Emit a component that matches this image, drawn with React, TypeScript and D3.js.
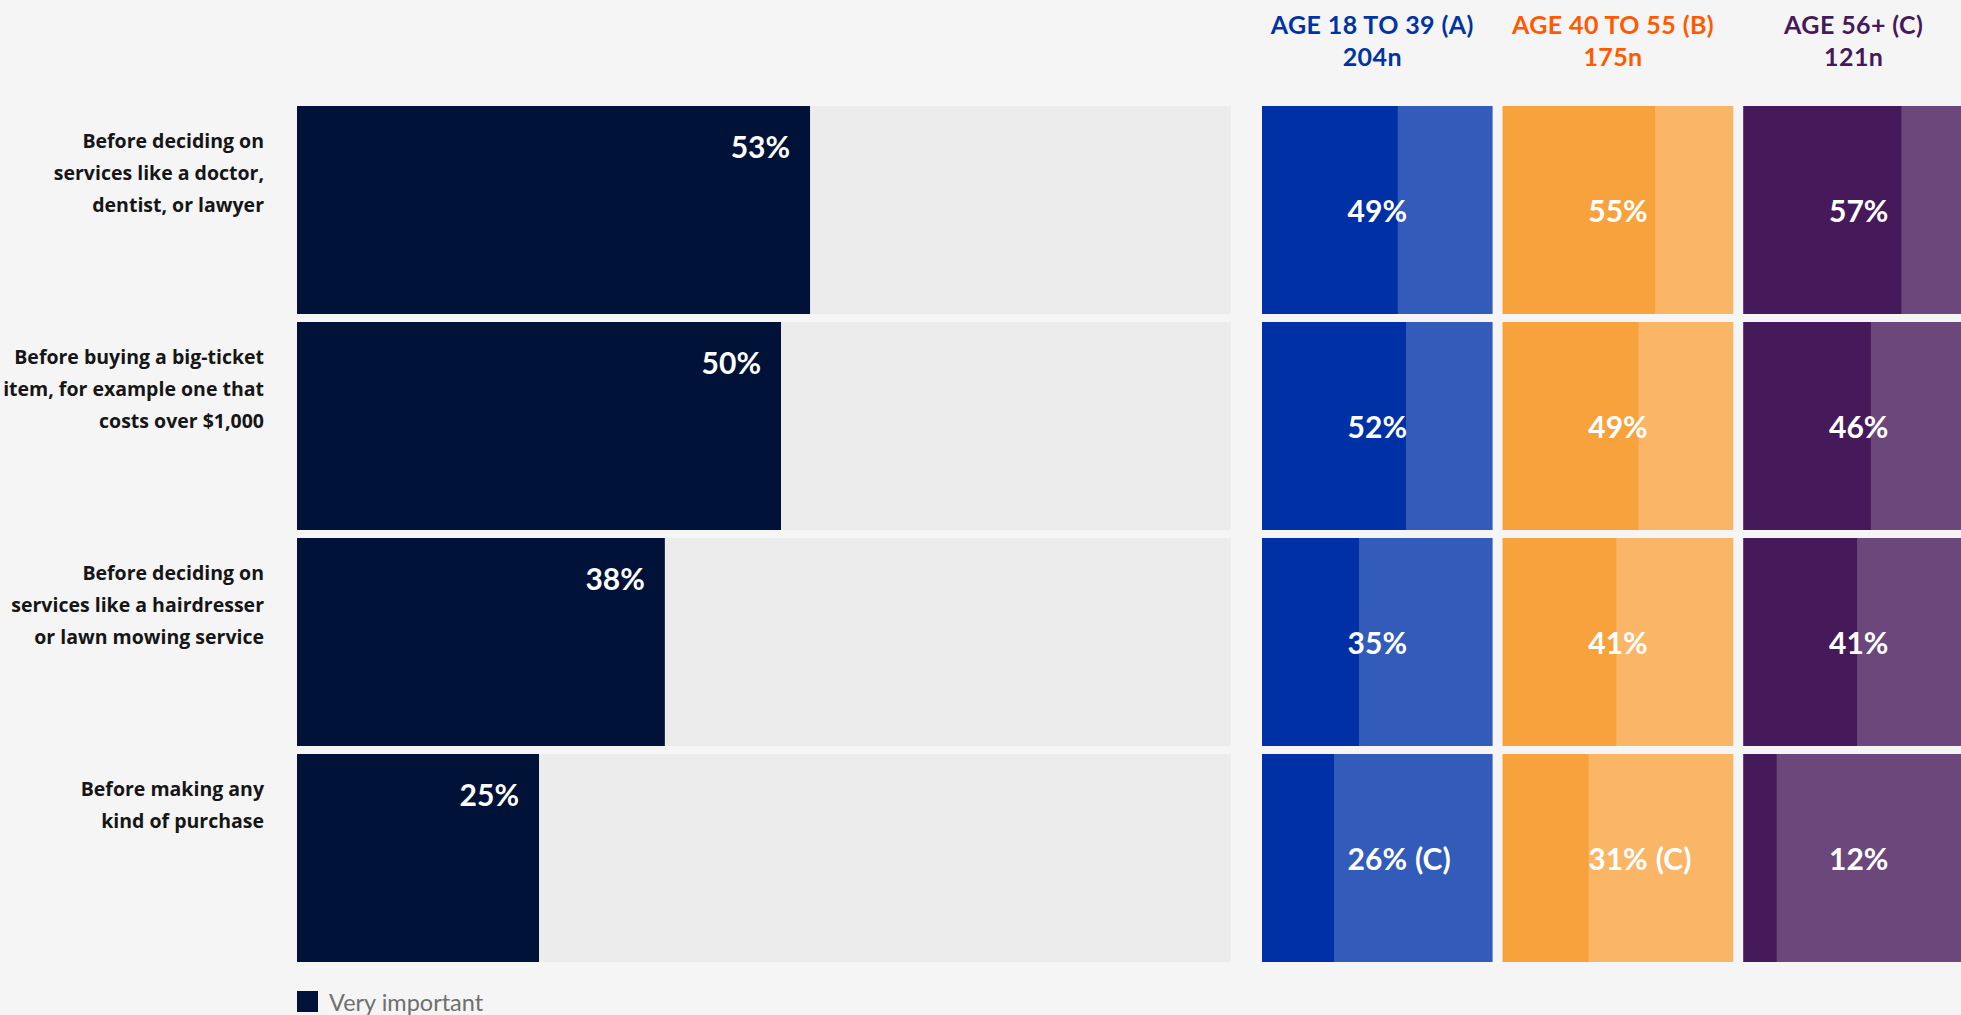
import React, { useEffect, useRef } from "react";
import * as d3 from "d3";

// Survey statements, one wrapped line per entry
const categories: string[][] = [
  ["Before deciding on", "services like a doctor,", "dentist, or lawyer"],
  ["Before buying a big-ticket", "item, for example one that", "costs over $1,000"],
  ["Before deciding on", "services like a hairdresser", "or lawn mowing service"],
  ["Before making any", "kind of purchase"],
];

// Share answering "Very important", all respondents (%)
const totalValues = [53, 50, 38, 25];

// Age group headers and sample sizes
const groupNames = ["AGE 18 TO 39 (A)", "AGE 40 TO 55 (B)", "AGE 56+ (C)"];
const groupSizes = ["204n", "175n", "121n"];

// "Very important" share by age group (%)
const ageA = [49, 52, 35, 26];
const ageB = [55, 49, 41, 31];
const ageC = [57, 46, 41, 12];

// Significance letters shown after a value
const sigA = ["", "", "", "C"];
const sigB = ["", "", "", "C"];
const sigC = ["", "", "", ""];

const legendLabel = "Very important";

const W = 1961;
const H = 1015;
const FONT = "Lato, 'Open Sans', 'DejaVu Sans', sans-serif";
const LABEL_FONT = "'Open Sans', Lato, 'DejaVu Sans', sans-serif";

const groupStyles = [
  { dark: "#0030a6", light: "#335bb9", head: "#0034a2" },
  { dark: "#f8a23e", light: "#fbb567", head: "#ff5a00" },
  { dark: "#46195b", light: "#6b477b", head: "#46195b" },
];

export default function App() {
  const ref = useRef<SVGSVGElement | null>(null);

  useEffect(() => {
    document.body.style.margin = "0";
    document.body.style.background = "#f5f5f5";
    const svg = d3.select(ref.current);
    svg.selectAll("*").remove();

    svg.append("rect").attr("width", W).attr("height", H).attr("fill", "#f5f5f5");

    const rows = d3
      .scaleBand<number>()
      .domain(d3.range(categories.length))
      .range([106, 962])
      .paddingInner(8 / 216);

    const trackLeft = 297;
    const trackRight = 1231;
    const x = d3.scaleLinear().domain([0, 100]).range([trackLeft, trackLeft + 968]);

    const groups = d3
      .scaleBand<number>()
      .domain(d3.range(groupNames.length))
      .range([1262, 1974])
      .paddingInner(0.042);
    const fill = d3.scaleLinear().domain([0, 100]).range([0, 277]);

    const groupValues = [ageA, ageB, ageC];
    const groupSig = [sigA, sigB, sigC];

    // Row labels
    const labelG = svg.append("g");
    categories.forEach((lines, i) => {
      const t = labelG
        .append("text")
        .attr("text-anchor", "end")
        .attr("font-family", LABEL_FONT)
        .attr("font-weight", 700)
        .attr("font-size", 19.5)
        .attr("fill", "#161616");
      lines.forEach((ln, j) => {
        t.append("tspan")
          .attr("x", 264)
          .attr("y", (rows(i) as number) + 42 + j * 32)
          .text(ln);
      });
    });

    // Overall bars
    const main = svg.append("g");
    totalValues.forEach((v, i) => {
      const y0 = rows(i) as number;
      main
        .append("rect")
        .attr("x", trackLeft)
        .attr("y", y0)
        .attr("width", trackRight - trackLeft)
        .attr("height", rows.bandwidth())
        .attr("fill", "#ececec");
      main
        .append("rect")
        .attr("x", trackLeft)
        .attr("y", y0)
        .attr("width", x(v) - trackLeft)
        .attr("height", rows.bandwidth())
        .attr("fill", "#001237");
      main
        .append("text")
        .attr("x", x(v) - 20)
        .attr("y", y0 + 52)
        .attr("text-anchor", "end")
        .attr("font-family", FONT)
        .attr("font-weight", 700)
        .attr("font-size", 30)
        .attr("fill", "#ffffff")
        .text(`${v}%`);
    });

    // Age group panels
    groupNames.forEach((name, g) => {
      const gx = groups(g) as number;
      const bw = groups.bandwidth();
      const cx = gx + bw / 2;
      const st = groupStyles[g];
      const head = svg
        .append("text")
        .attr("text-anchor", "middle")
        .attr("font-family", FONT)
        .attr("font-weight", 700)
        .attr("font-size", 25)
        .attr("letter-spacing", 0.4)
        .attr("fill", st.head);
      head.append("tspan").attr("x", cx - 5).attr("y", 34).text(name);
      head.append("tspan").attr("x", cx - 5).attr("y", 66).text(groupSizes[g]);

      const pg = svg.append("g");
      groupValues[g].forEach((v, i) => {
        const y0 = rows(i) as number;
        const h = rows.bandwidth();
        pg.append("rect")
          .attr("x", gx)
          .attr("y", y0)
          .attr("width", bw)
          .attr("height", h)
          .attr("fill", st.light);
        pg.append("rect")
          .attr("x", gx)
          .attr("y", y0)
          .attr("width", Math.min(bw, fill(v)))
          .attr("height", h)
          .attr("fill", st.dark);
        const label = pg
          .append("text")
          .attr("x", cx)
          .attr("y", y0 + h / 2 + 12)
          .attr("text-anchor", "middle")
          .attr("font-family", FONT)
          .attr("font-weight", 700)
          .attr("font-size", 30)
          .attr("fill", "#ffffff")
          .text(`${v}%`);
        const sig = groupSig[g][i];
        if (sig) {
          const len = (label.node() as SVGTextElement).getComputedTextLength();
          pg.append("text")
            .attr("x", cx + len / 2 + 8)
            .attr("y", y0 + h / 2 + 12)
            .attr("font-family", FONT)
            .attr("font-weight", 700)
            .attr("font-size", 30)
            .attr("fill", "#ffffff")
            .text(`(${sig})`);
        }
      });
    });

    // Legend
    const lg = svg.append("g");
    lg.append("rect").attr("x", 297).attr("y", 991).attr("width", 21).attr("height", 21).attr("fill", "#001237");
    lg.append("text")
      .attr("x", 329)
      .attr("y", 1011)
      .attr("font-family", FONT)
      .attr("font-size", 23.5)
      .attr("fill", "#6f6f6f")
      .text(legendLabel);
  }, []);

  return (
    <svg
      ref={ref}
      width={W}
      height={H}
      style={{ position: "absolute", left: 0, top: 0, display: "block" }}
    />
  );
}
